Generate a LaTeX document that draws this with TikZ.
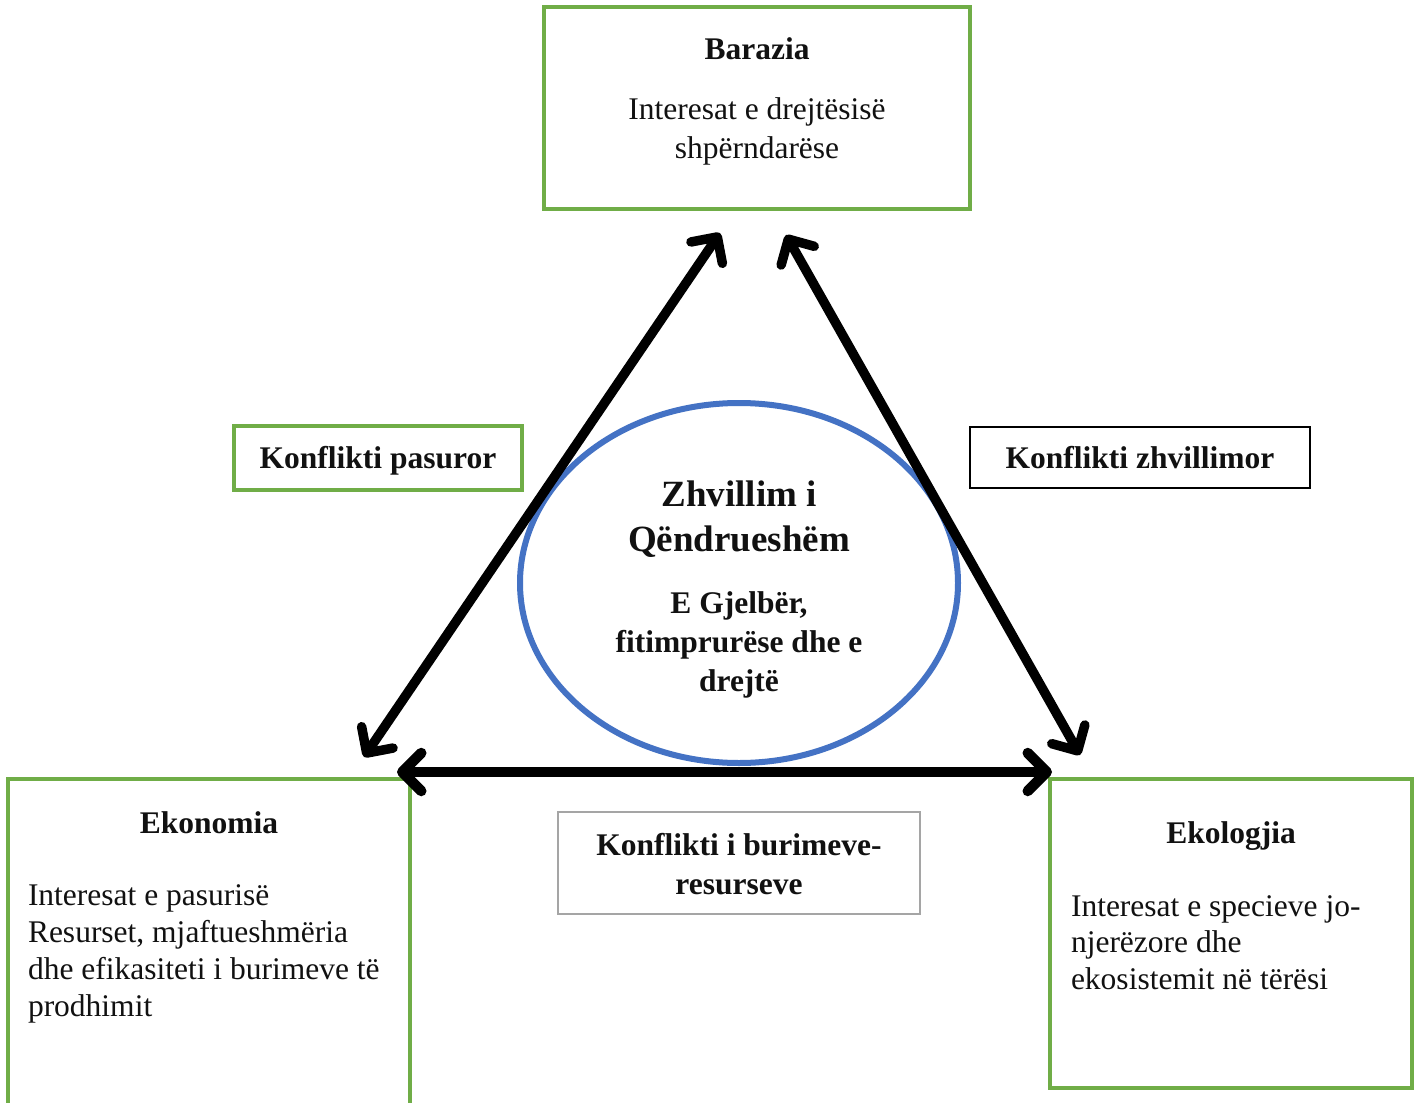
\documentclass[tikz,border=0pt]{standalone}
\usepackage{fontspec}
\setmainfont{Liberation Serif}
\usetikzlibrary{arrows.meta,shapes.geometric}
\definecolor{grn}{HTML}{70AD47}
\definecolor{blu}{HTML}{4472C4}
\definecolor{gry}{HTML}{A5A5A5}
\definecolor{txt}{HTML}{111111}
\begin{document}
\begin{tikzpicture}[x=1pt,y=-1pt,
  every node/.style={inner sep=0pt,outer sep=0pt,text=txt},
  gbox/.style={draw=grn,line width=3.2pt,rectangle},
  kbox/.style={draw=black,line width=2.6pt,rectangle},
  ybox/.style={draw=gry,line width=2.6pt,rectangle},
  body/.style={font=\fontsize{31.5}{37}\selectfont},
  head/.style={font=\fontsize{31.5}{37}\selectfont\bfseries},
  big/.style={font=\fontsize{37}{45}\selectfont\bfseries},
  arr/.style={line width=9.5pt,line cap=round,{Straight Barb[length=19pt,width=38pt,line cap=round,line join=round]}-{Straight Barb[length=19pt,width=38pt,line cap=round,line join=round]}}
]
\useasboundingbox (0,0) rectangle (1417,1103);
\fill[white] (0,0) rectangle (1417,1103);

% boxes
\node[gbox,minimum width=426pt,minimum height=202pt] (bar) at (757,108) {};
\node[gbox,minimum width=402pt,minimum height=336pt] (eko) at (209,947) {};
\node[gbox,minimum width=362pt,minimum height=309pt] (ekl) at (1231,933.5) {};
\node[gbox,minimum width=288pt,minimum height=64pt] (kp) at (378,458) {};
\node[kbox,minimum width=340pt,minimum height=61pt] (kz) at (1140,457.5) {};
\node[ybox,minimum width=362pt,minimum height=102pt] (kb) at (739,863) {};

% ellipse
\node[draw=blu,line width=6pt,ellipse,minimum width=438pt,minimum height=360pt] (zh) at (739,583) {};

% texts (multi-line nodes: base = baseline of last line)
\node[head,anchor=base] (bart) at (757,59) {Barazia};
\node[body,anchor=base,align=center,font=\fontsize{31.5}{39}\selectfont] (barb) at (757,158) {Interesat e drejtësisë\\shpërndarëse};

\node[head,anchor=base] (ekot) at (209,833) {Ekonomia};
\node[body,anchor=base west,align=left,font=\fontsize{31.5}{36.7}\selectfont] (ekob) at (28,1016) {Interesat e pasurisë\\Resurset, mjaftueshmëria\\dhe efikasiteti i burimeve të\\prodhimit};

\node[head,anchor=base] (eklt) at (1231,843) {Ekologjia};
\node[body,anchor=base west,align=left,font=\fontsize{31.5}{36.5}\selectfont] (eklb) at (1071,989) {Interesat e specieve jo-\\njerëzore dhe\\ekosistemit në tërësi};

\node[head,anchor=base] (kpt) at (378,468) {Konflikti pasuror};
\node[head,anchor=base] (kzt) at (1140,468) {Konflikti zhvillimor};
\node[head,anchor=base,align=center,font=\fontsize{31.5}{39}\selectfont\bfseries] (kbt) at (739,894) {Konflikti i burimeve-\\resurseve};

\node[big,anchor=base,align=center] (zht) at (739,551) {Zhvillim i\\Qëndrueshëm};
\node[head,anchor=base,align=center,font=\fontsize{31.5}{39}\selectfont\bfseries] (zhb) at (739,691) {E Gjelbër,\\fitimprurëse dhe e\\drejtë};

% arrow end points
\coordinate (a1) at (364,757);
\coordinate (a2) at (720,233);
\coordinate (b1) at (786,235);
\coordinate (b2) at (1080,755);
\coordinate (c1) at (397,772);
\coordinate (c2) at (1052,772);

\draw[arr] (a1) -- (a2);
\draw[arr] (b1) -- (b2);
\draw[arr,line width=10.5pt] (c1) -- (c2);
\end{tikzpicture}
\end{document}
